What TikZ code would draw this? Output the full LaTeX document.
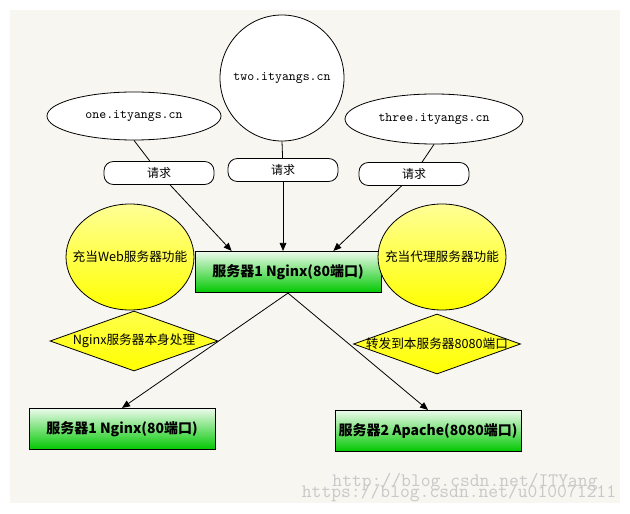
\documentclass[tikz,border=0pt]{standalone}
\usepackage{fontspec}
\newfontfamily\cjk{Noto Sans CJK SC}
\usetikzlibrary{arrows.meta}
\usetikzlibrary{shapes.geometric}
\definecolor{bgbeige}{RGB}{248,246,240}
\definecolor{boxgreen}{RGB}{0,200,0}
\definecolor{boxlight}{RGB}{236,250,236}
\definecolor{sunyellow}{RGB}{255,255,0}
\definecolor{paleyellow}{RGB}{255,255,150}
\definecolor{markgray}{RGB}{200,200,200}

\begin{document}
\begin{tikzpicture}[x=0.75pt,y=-0.75pt,>={Triangle[length=6pt,width=5pt]},line width=0.6pt,
  site/.style={ellipse,draw,fill=white,inner sep=0pt,font=\ttfamily\fontsize{9.9}{11}\selectfont},
  request/.style={rectangle,rounded corners=7pt,draw,fill=white,minimum width=82.5pt,minimum height=17.25pt,inner sep=0pt,font=\cjk\fontsize{9}{10}\selectfont},
  role/.style={ellipse,draw,top color=paleyellow,bottom color=sunyellow,minimum width=96pt,minimum height=79.5pt,inner sep=0pt,font=\cjk\fontsize{9.5}{11}\selectfont},
  handling/.style={diamond,draw,top color=paleyellow!50!sunyellow,bottom color=sunyellow,minimum height=45pt,inner sep=0pt,font=\cjk\fontsize{9.5}{11}\selectfont},
  server/.style={rectangle,draw,top color=boxlight,bottom color=boxgreen,minimum width=139.5pt,minimum height=31pt,inner sep=0pt,font=\cjk\bfseries\fontsize{10.5}{12}\selectfont},
  watermark/.style={text=markgray,inner sep=0pt,font=\ttfamily\fontsize{14.3}{15}\selectfont}]
  \useasboundingbox (0,0) rectangle (630,513);
  \fill[bgbeige] (10,10) rectangle (620,503);
  %
  \node[site,minimum width=130.5pt,minimum height=36pt]  (one)   at (134,116) {\makebox[0pt]{one.ityangs.cn}};
  \node[site,minimum width=93pt,minimum height=94.5pt]   (two)   at (282,78)  {\makebox[0pt]{two.ityangs.cn}};
  \node[site,minimum width=133.5pt,minimum height=37.5pt] (three) at (434,119) {\makebox[0pt]{three.ityangs.cn}};
  \node[request] (req1) at (159,173) {请求};
  \node[request] (req2) at (283,170) {请求};
  \node[request] (req3) at (414,174) {请求};
  \node[server] (entry) at (288,272) {服务器1 Nginx(80端口)};
  \node[role] (web)   at (130,257) {\makebox[0pt]{充当Web服务器功能}};
  \node[role] (proxy) at (442,257) {\makebox[0pt]{充当代理服务器功能}};
  \node[handling,minimum width=126pt]    (local)   at (134,341) {\makebox[0pt]{Nginx服务器本身处理}};
  \node[handling,minimum width=125.25pt] (forward) at (437,344) {\makebox[0pt]{转发到本服务器8080端口}};
  \node[server] (nginx)  at (122,429) {服务器1 Nginx(80端口)};
  \node[server] (apache) at (428,431) {服务器2 Apache(8080端口)};
  %
  \draw (one.south) -- (req1);
  \draw[->] (req1) -- ([xshift=27.75pt]entry.north west);
  \draw (two.south) -- (req2);
  \draw[->] (req2) -- (req2 |- entry.north);
  \draw (three.south) -- (req3);
  \draw[->] (req3) -- ([xshift=-36pt]entry.north east);
  \draw[->] (entry.south) -- (nginx.north);
  \draw[->] (entry.south) -- (apache.north);
  %
  \node[watermark] (mark1) at (465,482) {http://blog.csdn.net/ITYang};
  \node[watermark] (mark2) at (459,493) {https://blog.csdn.net/u010071211};
\end{tikzpicture}
\end{document}
